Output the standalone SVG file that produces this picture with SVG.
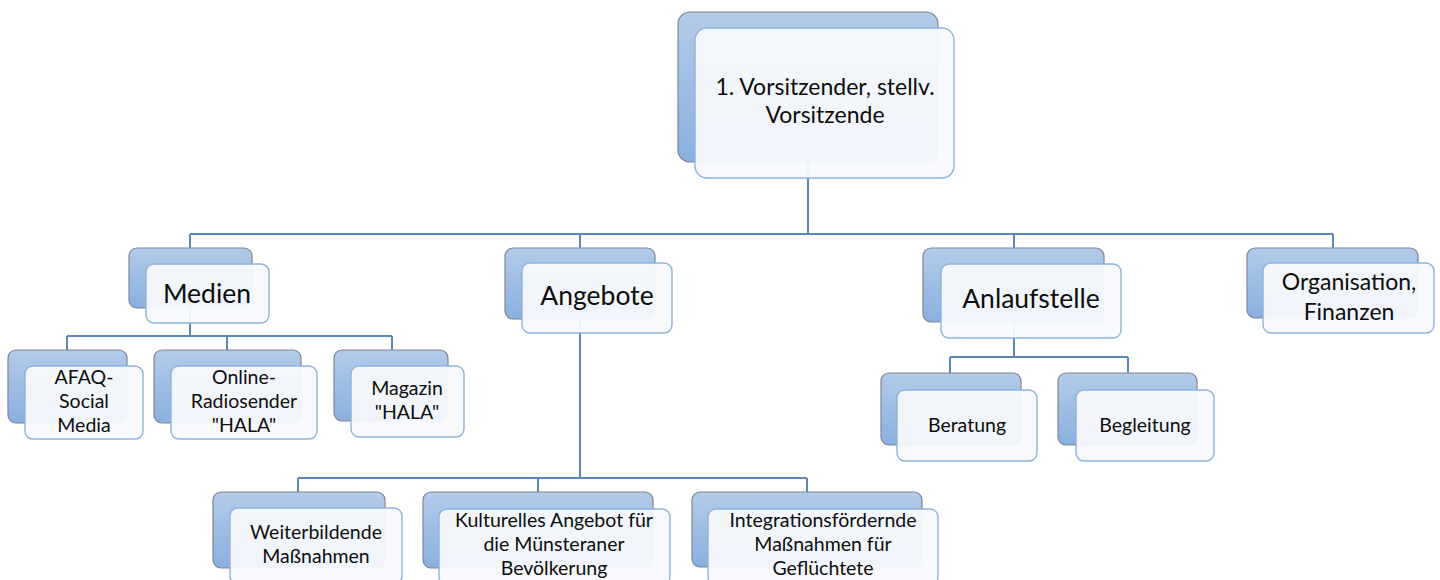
<svg xmlns="http://www.w3.org/2000/svg" width="1440" height="580" viewBox="0 0 1440 580">
<defs>
<linearGradient id="bg" x1="0" y1="0" x2="0" y2="1">
<stop offset="0" stop-color="#b3cbe9"/>
<stop offset="1" stop-color="#8aafdf"/>
</linearGradient>
<style>
.back{fill:url(#bg);stroke:#7c8696;stroke-width:1.2}
.front{fill:#f7f9fc;fill-opacity:0.95;stroke:#8db4e0;stroke-width:1.4}
.t{font-family:Lato,"Open Sans",sans-serif;fill:#0d0d0d;text-anchor:middle}
.l0{font-size:23px}
.l1{font-size:26.5px}
.l2{font-size:19.5px}
.c{fill:none;stroke:#5b87b9;stroke-width:2}
</style>
</defs>
<rect width="1440" height="580" fill="#ffffff"/>
<g id="connectors" class="c">
<path class="c" d="M808,162V234M190,234H1333M190,234V248M580,234V248M1014,234V248M1333,234V248"/>
<path class="c" d="M190,308V336M67,336H392M67,336V350M227,336V350M392,336V350"/>
<path class="c" d="M580,319V478M298,478H807M298,478V492M538,478V492M807,478V492"/>
<path class="c" d="M1014,322V357M950,357H1128M950,357V373M1128,357V373"/>
</g>
<g id="n-vorsitz">
<rect class="back" x="678" y="12" width="260" height="150" rx="12"/>
<rect class="front" x="695" y="28" width="259" height="150" rx="12"/>
<text class="t l0" x="825" y="95">1. Vorsitzender, stellv.</text>
<text class="t l0" x="825" y="123">Vorsitzende</text>
</g>
<g id="n-medien">
<rect class="back" x="129" y="248" width="123" height="60" rx="8"/>
<rect class="front" x="146" y="264" width="123" height="59" rx="8"/>
<text class="t l1" x="207" y="303">Medien</text>
</g>
<g id="n-angebote">
<rect class="back" x="505" y="248" width="150" height="71" rx="8"/>
<rect class="front" x="522" y="263" width="150" height="70" rx="8"/>
<text class="t l1" x="597" y="305">Angebote</text>
</g>
<g id="n-anlaufstelle">
<rect class="back" x="923" y="248" width="181" height="74" rx="8"/>
<rect class="front" x="941" y="264" width="180" height="74" rx="8"/>
<text class="t l1" x="1031" y="308">Anlaufstelle</text>
</g>
<g id="n-organisation">
<rect class="back" x="1247" y="248" width="171" height="70" rx="8"/>
<rect class="front" x="1263" y="263" width="171" height="70" rx="8"/>
<text class="t l0" x="1349" y="290">Organisation,</text>
<text class="t l0" x="1349" y="320">Finanzen</text>
</g>
<g id="n-afaq">
<rect class="back" x="8" y="350" width="119" height="73" rx="8"/>
<rect class="front" x="25" y="366" width="118" height="73" rx="8"/>
<text class="t l2" x="84" y="384">AFAQ-</text>
<text class="t l2" x="84" y="408">Social</text>
<text class="t l2" x="84" y="432">Media</text>
</g>
<g id="n-radio">
<rect class="back" x="154" y="350" width="147" height="73" rx="8"/>
<rect class="front" x="171" y="366" width="146" height="73" rx="8"/>
<text class="t l2" x="244" y="384">Online-</text>
<text class="t l2" x="244" y="408">Radiosender</text>
<text class="t l2" x="244" y="432">"HALA"</text>
</g>
<g id="n-magazin">
<rect class="back" x="334" y="350" width="114" height="71" rx="8"/>
<rect class="front" x="351" y="366" width="113" height="71" rx="8"/>
<text class="t l2" x="407" y="395">Magazin</text>
<text class="t l2" x="407" y="419">"HALA"</text>
</g>
<g id="n-beratung">
<rect class="back" x="881" y="373" width="140" height="72" rx="8"/>
<rect class="front" x="897" y="390" width="140" height="71" rx="8"/>
<text class="t l2" x="967" y="432">Beratung</text>
</g>
<g id="n-begleitung">
<rect class="back" x="1058" y="373" width="139" height="72" rx="8"/>
<rect class="front" x="1076" y="390" width="138" height="71" rx="8"/>
<text class="t l2" x="1145" y="432">Begleitung</text>
</g>
<g id="n-weiterbildende">
<rect class="back" x="213" y="492" width="172" height="76" rx="8"/>
<rect class="front" x="230" y="508" width="172" height="76" rx="8"/>
<text class="t l2" x="316" y="539">Weiterbildende</text>
<text class="t l2" x="316" y="563">Maßnahmen</text>
</g>
<g id="n-kulturelles">
<rect class="back" x="423" y="492" width="230" height="76" rx="8"/>
<rect class="front" x="439" y="509" width="231" height="76" rx="8"/>
<text class="t l2" x="554" y="527">Kulturelles Angebot für</text>
<text class="t l2" x="554" y="551">die Münsteraner</text>
<text class="t l2" x="554" y="575">Bevölkerung</text>
</g>
<g id="n-integration">
<rect class="back" x="692" y="492" width="230" height="75" rx="8"/>
<rect class="front" x="708" y="509" width="230" height="76" rx="8"/>
<text class="t l2" x="823" y="527">Integrationsfördernde</text>
<text class="t l2" x="823" y="551">Maßnahmen für</text>
<text class="t l2" x="823" y="575">Geflüchtete</text>
</g>
</svg>
